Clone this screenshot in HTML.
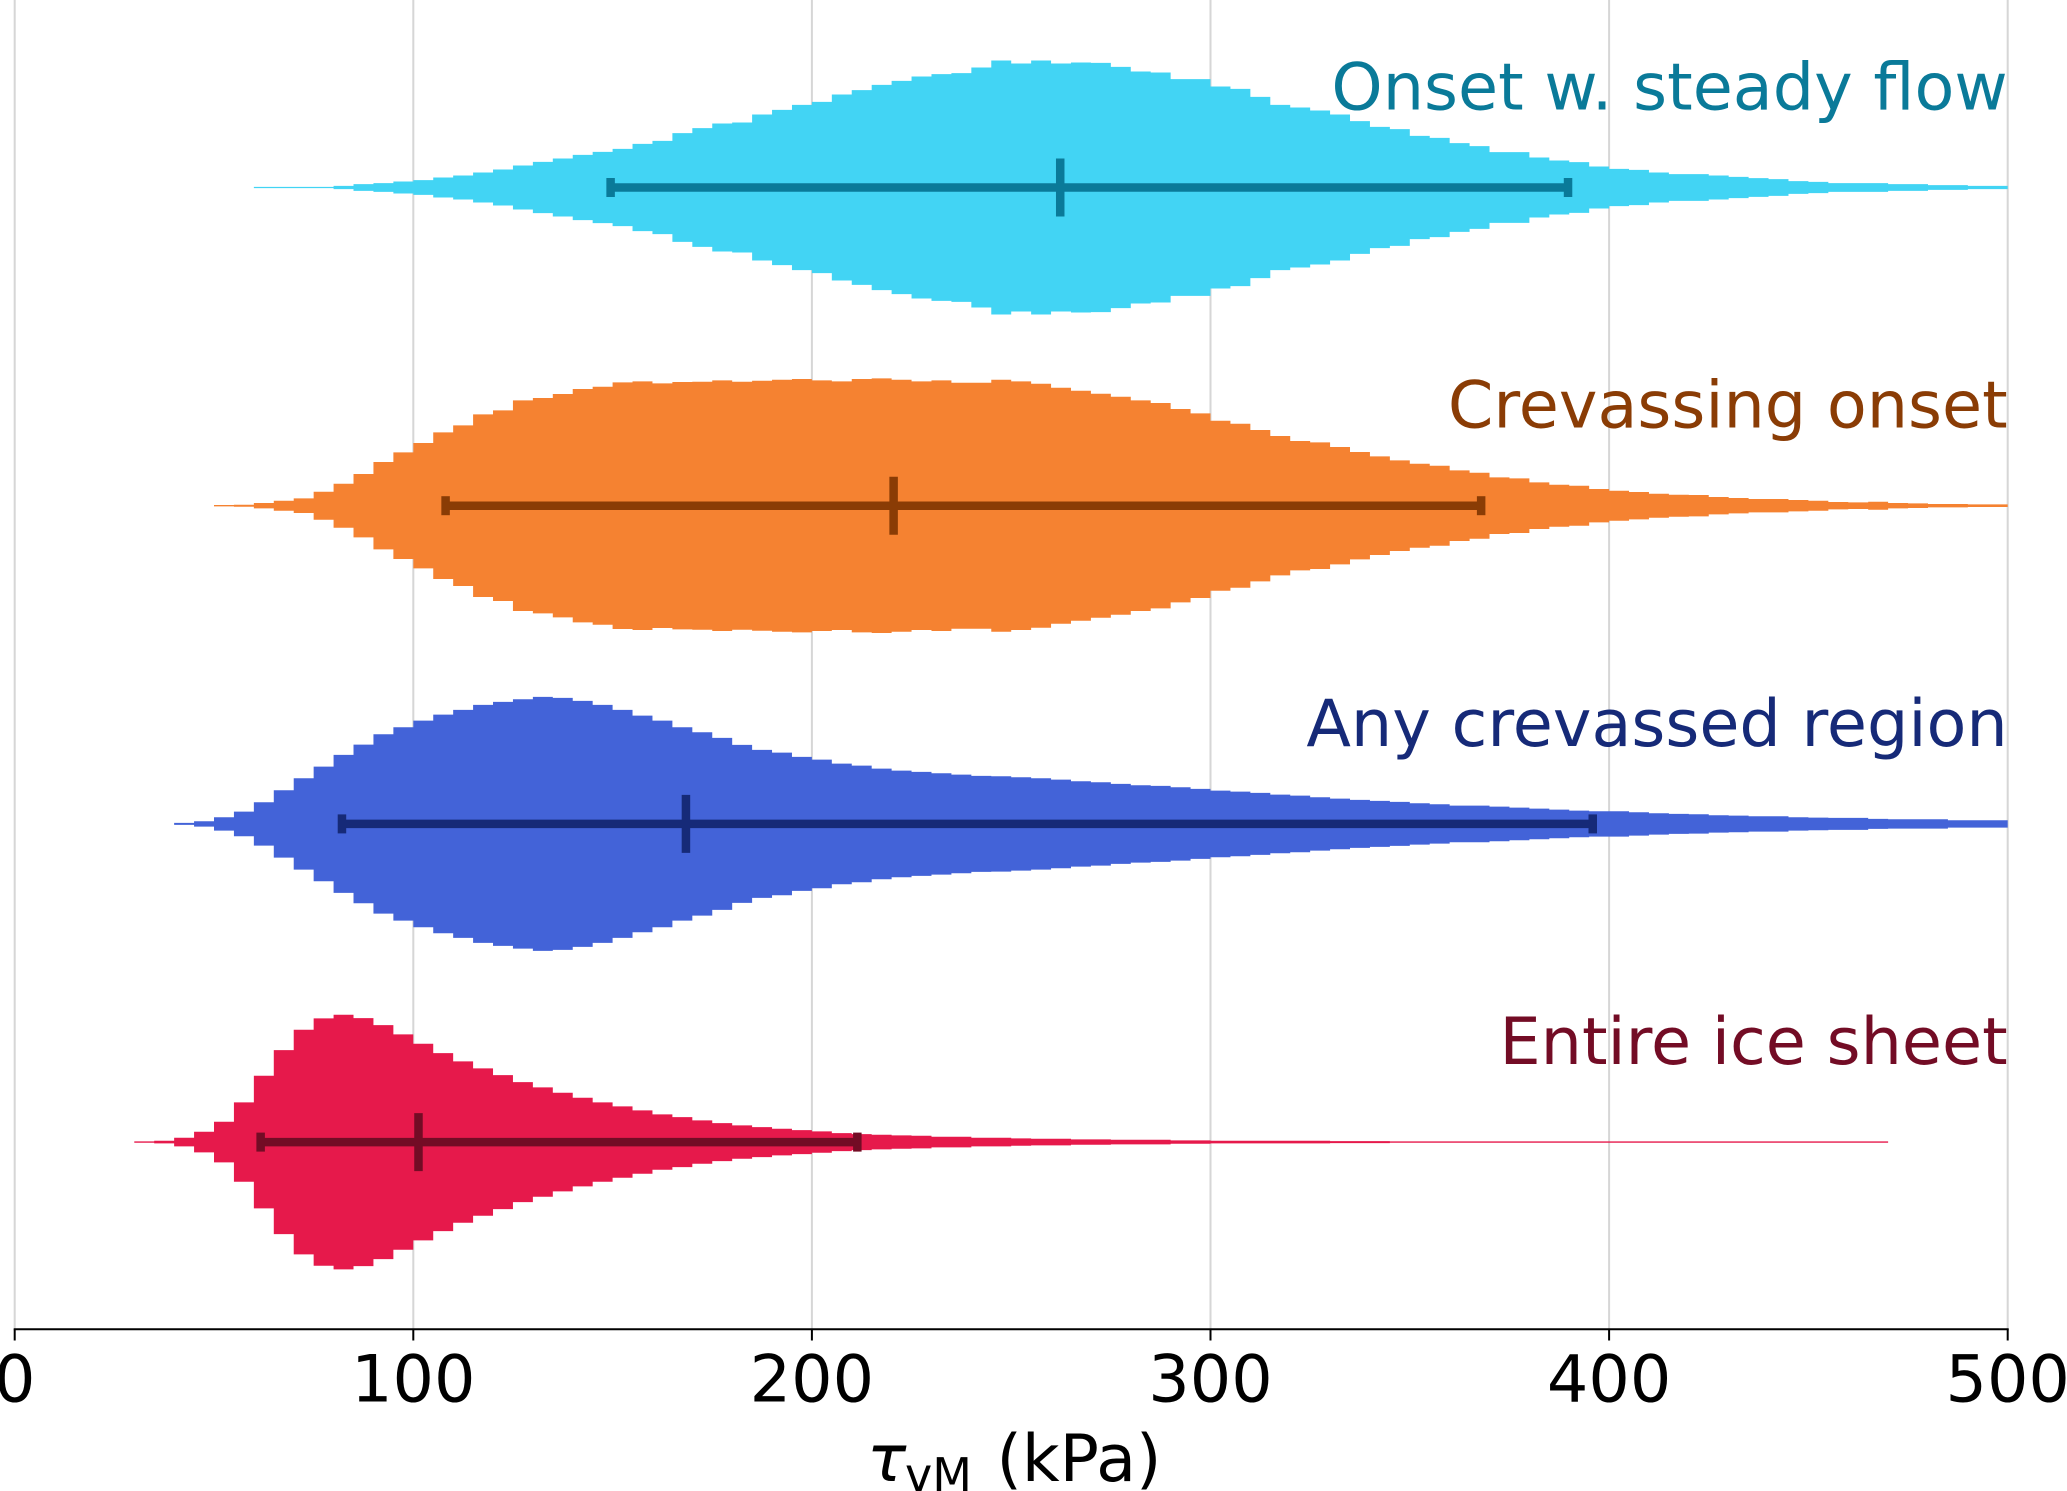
<!DOCTYPE html>
<html lang="en">
<head>
<meta charset="utf-8">
<title>Violin distributions of von Mises stress</title>
<style>
html,body{margin:0;padding:0;background:#fff;width:2067px;height:1491px;overflow:hidden}
svg{display:block}
text{font-family:"DejaVu Sans","Liberation Sans",sans-serif}
</style>
</head>
<body>
<svg id="chart" xmlns="http://www.w3.org/2000/svg" width="2067" height="1491" viewBox="0 0 2067 1491">
  <rect x="0" y="0" width="2067" height="1491" fill="#ffffff"/>
  <g id="grid"></g>
  <g id="violins"></g>
  <g id="axis"></g>
  <g fill="#000000">
    <text x="867" y="1481" font-size="65.2" font-style="italic">τ</text>
    <text x="905" y="1491" font-size="46">vM</text>
    <text x="996.5" y="1481" font-size="65.2">(kPa)</text>
  </g>
</svg>
<script>
// Distribution bins (kPa)
const binWidth = 5;
const xTicks = [0, 100, 200, 300, 400, 500];

// Series labels, top to bottom
const seriesLabels = ["Onset w. steady flow", "Crevassing onset", "Any crevassed region", "Entire ice sheet"];
const seriesKeys = ["onset-steady-flow", "crevassing-onset", "any-crevassed-region", "entire-ice-sheet"];
const fillColors = ["#42d4f4", "#f58231", "#4363d8", "#e6194b"];
const darkColors = ["#0a7a99", "#8a3c05", "#162a78", "#730c25"];

// First bin of each series (kPa)
const binStarts = [60, 50, 40, 30];

// Relative density per bin (peak about 381)
const densityOnset = [2,2,2,2,5,10,13,18,22,30,36,45,54,66,77,87,98,107,116,131,140,163,178,192,195,219,233,248,257,279,292,308,320,333,340,343,360,381,372,381,372,375,374,362,348,345,325,325,303,296,272,248,240,231,219,199,182,175,155,149,133,124,106,106,90,81,76,63,56,53,45,40,40,36,32,28,25,19,17,13,13,13,10,10,7,7,5,5];
const densityCrevassing = [2,3,8,15,22,42,66,95,131,160,188,220,241,274,286,316,323,335,350,357,370,373,367,371,372,376,372,375,378,380,376,373,380,382,378,373,376,369,369,378,373,366,354,345,336,327,316,308,290,277,255,246,227,209,194,190,176,161,148,136,126,120,106,99,85,82,70,63,60,50,45,41,36,33,32,26,23,20,20,17,15,11,10,12,8,7,5,5,4,4];
const densityAny = [3,8,20,37,65,101,137,172,207,238,269,290,310,328,342,357,366,374,381,378,369,357,342,325,310,290,275,258,237,222,214,201,193,181,175,166,160,156,152,148,144,143,140,137,133,128,125,120,116,114,110,105,100,97,93,88,85,80,76,72,69,66,62,59,55,55,52,49,46,43,40,38,38,35,32,30,29,26,25,23,23,20,19,18,18,15,14,14,14,11,11,11];
const densityEntire = [2,4,13,31,61,119,199,276,337,371,382,372,351,323,295,267,242,221,201,180,164,148,133,119,107,95,83,75,65,57,50,45,40,36,32,27,24,22,20,19,16,16,13,13,11,10,10,8,8,7,7,7,5,5,4,4,4,4,4,4,3,3,3,2,2,2,2,2,2,2,2,2,2,2,2,2,2,2,2,2,2,2,2,2,2,2,2,2];

// Whisker statistics (kPa)
const lowerValues = [149.5, 108.1, 82.1, 61.7];
const medianValues = [262.3, 220.5, 168.4, 101.3];
const upperValues = [389.7, 367.9, 395.9, 211.4];

const densitySeries = [densityOnset, densityCrevassing, densityAny, densityEntire];

const NS = "http://www.w3.org/2000/svg";
const PLOT_LEFT = 14.7, PLOT_RIGHT = 2007.7, AXIS_MAX = 500, SPINE_Y = 1329.3;
const ROW_TOP = 187.5, ROW_STEP = 318.2, DENSITY_SCALE = 127 / 381;

function xScale(v) { return PLOT_LEFT + (v / AXIS_MAX) * (PLOT_RIGHT - PLOT_LEFT); }
function rowCenter(i) { return ROW_TOP + i * ROW_STEP; }
function halfHeight(d) { return d * DENSITY_SCALE; }
function make(tag, attrs, parent) {
  const el = document.createElementNS(NS, tag);
  for (const k in attrs) el.setAttribute(k, attrs[k]);
  parent.appendChild(el);
  return el;
}
function f(n) { return n.toFixed(2); }

const gridG = document.getElementById("grid");
const axisG = document.getElementById("axis");
const violinsG = document.getElementById("violins");

xTicks.forEach(function (t) {
  const gl = make("line", { x1: f(xScale(t)), x2: f(xScale(t)), y1: 0, y2: SPINE_Y, stroke: "#d6d6d6", "stroke-width": 2 }, gridG);
  
  
});

const spine = make("line", { x1: f(xScale(0) - 1), x2: f(xScale(AXIS_MAX) + 1), y1: SPINE_Y, y2: SPINE_Y, stroke: "#000", "stroke-width": 2 }, axisG);



xTicks.forEach(function (t) {
  const tick = make("line", { x1: f(xScale(t)), x2: f(xScale(t)), y1: SPINE_Y, y2: 1340.5, stroke: "#000", "stroke-width": 2 }, axisG);
  
  
  const lab = make("text", { x: f(xScale(t)), y: 1401.7, "text-anchor": "middle", "font-size": 65.2, fill: "#000" }, axisG);
  lab.textContent = String(t);
  
  
});

function violinPath(values, start, cy) {
  let top = "", bottom = "";
  values.forEach(function (d, i) {
    const x0 = xScale(start + i * binWidth);
    const x1 = xScale(start + (i + 1) * binWidth);
    const h = halfHeight(d);
    top += (i === 0 ? "M" : "L") + f(x0) + " " + f(cy - h) + "L" + f(x1) + " " + f(cy - h);
    bottom = "L" + f(x1) + " " + f(cy + h) + "L" + f(x0) + " " + f(cy + h) + bottom;
  });
  return top + bottom + "Z";
}

seriesLabels.forEach(function (label, i) {
  const cy = rowCenter(i);
  const key = seriesKeys[i];
  const g = make("g", {}, violinsG);
  
  

  const body = make("path", { d: violinPath(densitySeries[i], binStarts[i], cy), fill: fillColors[i] }, g);
  
  

  const range = make("line", { x1: f(xScale(lowerValues[i])), x2: f(xScale(upperValues[i])), y1: f(cy), y2: f(cy), stroke: darkColors[i], "stroke-width": 8.5 }, g);
  
  

  const capLow = make("line", { x1: f(xScale(lowerValues[i])), x2: f(xScale(lowerValues[i])), y1: f(cy - 9.5), y2: f(cy + 9.5), stroke: darkColors[i], "stroke-width": 8.5 }, g);
  
  

  const capHigh = make("line", { x1: f(xScale(upperValues[i])), x2: f(xScale(upperValues[i])), y1: f(cy - 9.5), y2: f(cy + 9.5), stroke: darkColors[i], "stroke-width": 8.5 }, g);
  
  

  const med = make("line", { x1: f(xScale(medianValues[i])), x2: f(xScale(medianValues[i])), y1: f(cy - 29), y2: f(cy + 29), stroke: darkColors[i], "stroke-width": 8.5 }, g);
  
  

  const txt = make("text", { x: f(PLOT_RIGHT), y: f(cy - 78), "text-anchor": "end", "font-size": 65.2, fill: darkColors[i] }, g);
  txt.textContent = label;
  
  
});
</script>
</body>
</html>
